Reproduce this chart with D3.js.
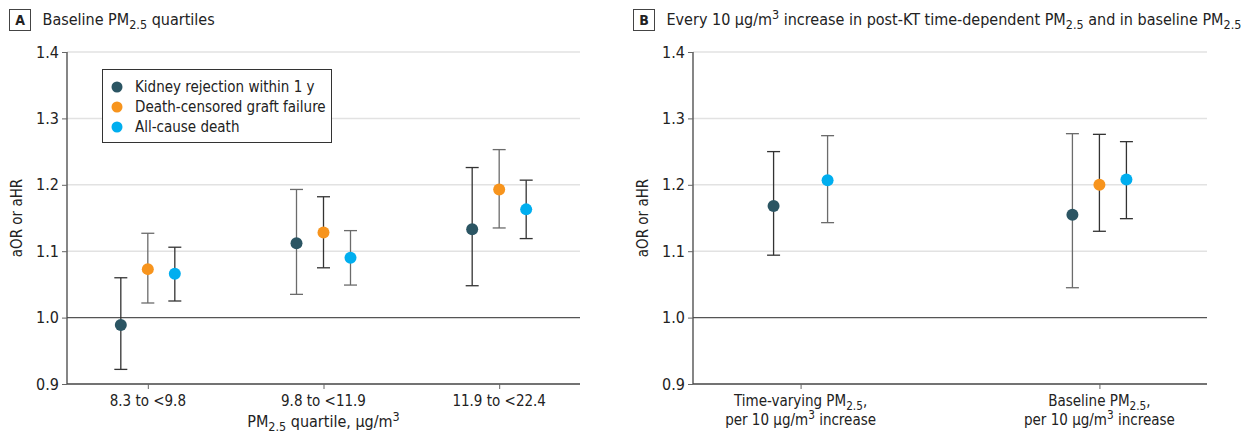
<!DOCTYPE html>
<html>
<head>
<meta charset="utf-8">
<script src="https://cdn.jsdelivr.net/npm/d3@7"></script>
<style>
  body { margin: 0; background: #fff; }
  text { font-family: "Liberation Sans Narrow", "DejaVu Sans Condensed", sans-serif; fill: #222; }
</style>
</head>
<body>
<svg id="chart" width="1244" height="435"></svg>
<script>

// series
var seriesNames = [ 'Kidney rejection within 1 y', 'Death-censored graft failure', 'All-cause death' ];
var seriesColors = [ '#2b5563', '#f7941d', '#00aeef' ];

// panel A: baseline quartiles, [estimate, lower, upper]
var quartileLabels = [ '8.3 to <9.8', '9.8 to <11.9', '11.9 to <22.4' ];
var quartileRejection = [ [ 0.989, 0.922, 1.060 ], [ 1.112, 1.035, 1.193 ], [ 1.133, 1.048, 1.226 ] ];
var quartileGraft = [ [ 1.073, 1.022, 1.127 ], [ 1.128, 1.075, 1.182 ], [ 1.193, 1.135, 1.253 ] ];
var quartileDeath = [ [ 1.066, 1.025, 1.106 ], [ 1.090, 1.049, 1.131 ], [ 1.163, 1.119, 1.207 ] ];

// panel B: per 10 ug/m3 increase
var per10Keys = [ 'time', 'baseline' ];
var per10Labels = [
  [ [ [ 'Time-varying PM' ], [ '2.5', 'sub' ], [ ',' ] ], [ [ 'per 10 μg/m' ], [ '3', 'sup' ], [ ' increase' ] ] ],
  [ [ [ 'Baseline PM' ], [ '2.5', 'sub' ], [ ',' ] ], [ [ 'per 10 μg/m' ], [ '3', 'sup' ], [ ' increase' ] ] ]
];
var per10Rejection = [ [ 1.168, 1.094, 1.250 ], [ 1.155, 1.045, 1.277 ] ];
var per10Graft = [ null, [ 1.200, 1.130, 1.276 ] ];
var per10Death = [ [ 1.207, 1.143, 1.274 ], [ 1.208, 1.149, 1.265 ] ];

var yTicks = [ 0.9, 1.0, 1.1, 1.2, 1.3, 1.4 ];

var titleA = [ [ 'Baseline PM' ], [ '2.5', 'sub' ], [ ' quartiles' ] ];
var titleB = [ [ 'Every 10 μg/m' ], [ '3', 'sup' ], [ ' increase in post-KT time-dependent PM' ], [ '2.5', 'sub' ], [ ' and in baseline PM' ], [ '2.5', 'sub' ] ];
var xTitleA = [ [ 'PM' ], [ '2.5', 'sub' ], [ ' quartile, μg/m' ], [ '3', 'sup' ] ];

var svg = d3.select( '#chart' );

var y = d3.scaleLinear().domain( [ 0.9, 1.4 ] ).range( [ 384, 52 ] );
var offset = d3.scalePoint().domain( seriesNames ).range( [ -27, 27 ] );
var color = d3.scaleOrdinal().domain( seriesNames ).range( seriesColors );

// write text made of plain / sub / sup pieces
function richText( t, segs, fs ) {
  var shift = 0;
  segs.forEach( s => {
    var kind = s[ 1 ], dy = 0, size = fs;
    if ( kind === 'sub' ) { dy = 4 - shift; shift = 4; size = fs * 0.78; }
    else if ( kind === 'sup' ) { dy = -6 - shift; shift = -6; size = fs * 0.78; }
    else { dy = -shift; shift = 0; }
    t.append( 'tspan' ).attr( 'dy', dy ).style( 'font-size', size + 'px' ).text( s[ 0 ] );
  } );
}

function drawPanel( p ) {
  var g = svg.append( 'g' );
  var x = d3.scalePoint().domain( p.keys ).range( [ p.x0, p.x1 ] ).padding( p.pad );

  // title
  g.append( 'rect' )
    .attr( 'x', p.boxX ).attr( 'y', 9.5 ).attr( 'width', 21 ).attr( 'height', 21 )
    .attr( 'fill', 'none' ).attr( 'stroke', '#444' ).attr( 'stroke-width', 1 );
  g.append( 'text' )
    .attr( 'x', p.boxX + 10.5 ).attr( 'y', 25 )
    .attr( 'text-anchor', 'middle' )
    .style( 'font-size', '14px' ).style( 'font-weight', 'bold' )
    .text( p.letter );
  richText( g.append( 'text' ).attr( 'x', p.boxX + 33 ).attr( 'y', 25 ), p.title, 16 );

  // grid
  g.selectAll( '.grid' )
    .data( yTicks.filter( d => d > 1.0 ) )
    .enter().append( 'line' )
    .attr( 'x1', p.x0 ).attr( 'x2', p.x1 )
    .attr( 'y1', d => y( d ) ).attr( 'y2', d => y( d ) )
    .attr( 'stroke', '#e2e2e2' ).attr( 'stroke-width', 1.5 );

  g.append( 'line' )
    .attr( 'x1', p.x0 ).attr( 'x2', p.x1 )
    .attr( 'y1', y( 1.0 ) ).attr( 'y2', y( 1.0 ) )
    .attr( 'stroke', '#555' ).attr( 'stroke-width', 1.3 );

  // y axis
  var yAxis = g.append( 'g' )
    .attr( 'transform', 'translate(' + p.x0 + ',0)' )
    .call( d3.axisLeft( y ).tickValues( yTicks ).tickFormat( d3.format( '.1f' ) ).tickSize( 5 ).tickPadding( 3 ) );
  yAxis.select( '.domain' ).attr( 'stroke', '#444' ).attr( 'stroke-width', 1.3 ).attr( 'd', 'M0,' + y( 1.4 ) + 'V' + y( 0.9 ) );
  yAxis.selectAll( '.tick line' ).attr( 'stroke', '#666' );
  yAxis.selectAll( '.tick text' ).style( 'font-size', '16px' ).attr( 'fill', '#333' );

  g.append( 'text' )
    .attr( 'transform', 'translate(' + ( p.x0 - 45 ) + ',' + y( 1.15 ) + ') rotate(-90)' )
    .attr( 'text-anchor', 'middle' )
    .style( 'font-size', '15px' )
    .text( 'aOR or aHR' );

  // x axis
  var xAxis = g.append( 'g' )
    .attr( 'transform', 'translate(0,' + y( 0.9 ) + ')' )
    .call( d3.axisBottom( x ).tickSize( 5 ).tickFormat( '' ) );
  xAxis.select( '.domain' ).attr( 'stroke', '#444' ).attr( 'stroke-width', 1.3 ).attr( 'd', 'M' + p.x0 + ',0H' + p.x1 );
  xAxis.selectAll( '.tick line' ).attr( 'stroke', '#666' );

  p.labels.forEach( ( lab, i ) => {
    var lines = typeof lab === 'string' ? [ [ [ lab ] ] ] : lab;
    lines.forEach( ( segs, j ) => {
      var t = g.append( 'text' )
        .attr( 'x', x( p.keys[ i ] ) ).attr( 'y', 406 + j * 19 )
        .attr( 'text-anchor', 'middle' );
      richText( t, segs, 15 );
    } );
  } );

  if ( p.xTitle ) {
    richText( g.append( 'text' )
      .attr( 'x', ( p.x0 + p.x1 ) / 2 ).attr( 'y', 427 )
      .attr( 'text-anchor', 'middle' ), p.xTitle, 16 );
  }

  // points
  var pts = [];
  p.series.forEach( ( arr, s ) => {
    arr.forEach( ( v, i ) => {
      if ( v ) pts.push( { name: seriesNames[ s ], key: p.keys[ i ], est: v[ 0 ], lo: v[ 1 ], hi: v[ 2 ] } );
    } );
  } );

  var bars = g.selectAll( '.bar' )
    .data( pts )
    .enter().append( 'g' )
    .attr( 'transform', d => 'translate(' + ( x( d.key ) + offset( d.name ) ) + ',0)' )
    .attr( 'stroke', ( d, i ) => i % 2 ? '#6b6b6b' : '#333' )
    .attr( 'stroke-width', 1.3 );

  bars.append( 'line' ).attr( 'y1', d => y( d.lo ) ).attr( 'y2', d => y( d.hi ) );
  bars.append( 'line' ).attr( 'x1', -6.5 ).attr( 'x2', 6.5 ).attr( 'y1', d => y( d.lo ) ).attr( 'y2', d => y( d.lo ) );
  bars.append( 'line' ).attr( 'x1', -6.5 ).attr( 'x2', 6.5 ).attr( 'y1', d => y( d.hi ) ).attr( 'y2', d => y( d.hi ) );

  g.selectAll( '.dot' )
    .data( pts )
    .enter().append( 'circle' )
    .attr( 'cx', d => x( d.key ) + offset( d.name ) )
    .attr( 'cy', d => y( d.est ) )
    .attr( 'r', 6 )
    .attr( 'fill', d => color( d.name ) );
}

drawPanel( {
  letter: 'A', boxX: 9.5, title: titleA, xTitle: xTitleA,
  x0: 67, x1: 580, pad: 0.46,
  keys: quartileLabels, labels: quartileLabels,
  series: [ quartileRejection, quartileGraft, quartileDeath ]
} );

drawPanel( {
  letter: 'B', boxX: 633.5, title: titleB,
  x0: 693, x1: 1207, pad: 0.36,
  keys: per10Keys, labels: per10Labels,
  series: [ per10Rejection, per10Graft, per10Death ]
} );

/* Legend */

var legend = svg.append( 'g' ).attr( 'transform', 'translate(102,69)' );

legend.append( 'rect' )
  .attr( 'x', 0.5 ).attr( 'y', 0.5 ).attr( 'width', 229 ).attr( 'height', 73 )
  .attr( 'fill', '#fff' ).attr( 'stroke', '#333' ).attr( 'stroke-width', 1 );

var items = legend.selectAll( '.item' )
  .data( seriesNames )
  .enter().append( 'g' )
  .attr( 'transform', ( d, i ) => 'translate(0,' + ( 18 + i * 20 ) + ')' );

items.append( 'circle' ).attr( 'cx', 15 ).attr( 'cy', 0 ).attr( 'r', 5.5 ).attr( 'fill', d => color( d ) );
items.append( 'text' ).attr( 'x', 33 ).attr( 'y', 5 ).style( 'font-size', '15px' ).text( d => d );

</script>
</body>
</html>
